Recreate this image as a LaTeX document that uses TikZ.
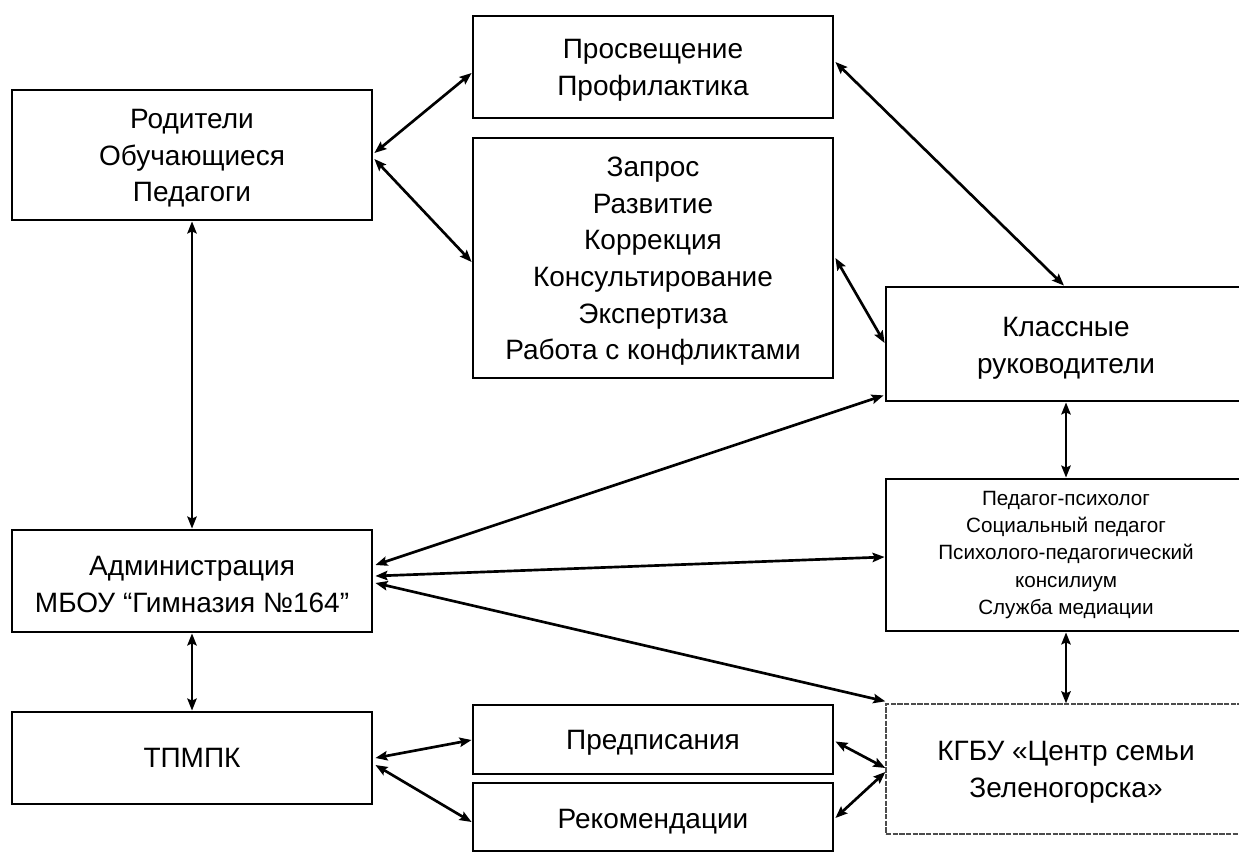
\documentclass[tikz,border=0pt]{standalone}
\usepackage{fontspec}
\setmainfont{Liberation Sans}
\usetikzlibrary{arrows.meta,calc}
\newcommand\mystrut{\rule{0pt}{19.5pt}}
\begin{document}
\begin{tikzpicture}[x=0.75pt,y=-0.75pt,
  box/.style={draw, line width=2.1pt, inner sep=0pt, align=center,
    font=\fontsize{21pt}{27.5pt}\selectfont},
  smallbox/.style={box, font=\fontsize{15.5pt}{20.3pt}\selectfont},
  dashbox/.style={box, line width=1pt, draw=black!70, dash pattern=on 4pt off 1pt},
  link/.style={line width=2pt, {Stealth[length=9pt,width=7pt,inset=1.5pt]}-{Stealth[length=9pt,width=7pt,inset=1.5pt]}}
]
\useasboundingbox (0,0) rectangle (1239,855);
\clip (0,0) rectangle (1239,855);
\fill[white] (0,0) rectangle (1239,855);

\node[box, minimum width=270pt, minimum height=97.5pt] (rod) at (192,155) {\mystrut Родители\\Обучающиеся\\Педагоги};
\node[box, minimum width=270pt, minimum height=76.5pt] (pros) at (653,67) {\mystrut Просвещение\\Профилактика};
\node[box, minimum width=270pt, minimum height=180pt] (zap) at (653,258) {\mystrut Запрос\\Развитие\\Коррекция\\Консультирование\\Экспертиза\\Работа с конфликтами};
\node[box, minimum width=270pt, minimum height=85.5pt] (kl) at (1066,344) {\rule{0pt}{21pt}Классные\\руководители};
\node[smallbox, minimum width=270pt, minimum height=114pt] (psy) at (1066,555) {Педагог-психолог\\Социальный педагог\\Психолого-педагогический\\консилиум\\Служба медиации};
\node[box, minimum width=270pt, minimum height=76.5pt] (adm) at (192,581) {\mystrut Администрация\\МБОУ “Гимназия №164”};
\node[box, minimum width=270pt, minimum height=69pt] (tpm) at (192,758) {ТПМПК};
\node[box, minimum width=270pt, minimum height=51.75pt] (pred) at (653,739.5) {\mystrut Предписания};
\node[box, minimum width=270pt, minimum height=51pt] (rek) at (653,817) {\rule{0pt}{21pt}Рекомендации};
\node[dashbox, minimum width=270pt, minimum height=97.5pt] (kgbu) at (1066,769) {\mystrut КГБУ «Центр семьи\\Зеленогорска»};

\draw[link] ($(rod.east)+(1,-2)$) -- ($(pros.west)+(0,6)$);
\draw[link] ($(rod.east)+(1,4)$) -- ($(zap.west)+(0,4)$);
\draw[link] ($(pros.east)+(1,-5)$) -- ($(kl.north)+(-2,0)$);
\draw[link] ($(zap.east)+(1,0)$) -- ($(kl.west)+(0,-1)$);
\draw[link] (rod.south) -- (adm.north);
\draw[link] ($(adm.east)+(2,-16)$) -- ($(kl.south west)+(-1,-7)$);
\draw[link] ($(adm.east)+(2,-5)$) -- ($(psy.west)+(0,2)$);
\draw[link] ($(adm.east)+(2,2)$) -- ($(kgbu.north west)+(0,-2)$);
\draw[link] (kl.south) -- (psy.north);
\draw[link] (psy.south) -- (kgbu.north);
\draw[link] (adm.south) -- (tpm.north);
\draw[link] ($(tpm.east)+(2,0)$) -- ($(pred.west)+(0,0.5)$);
\draw[link] ($(tpm.east)+(2,7)$) -- ($(rek.west)+(0,5)$);
\draw[link] ($(pred.east)+(1,2)$) -- ($(kgbu.west)+(0,-1)$);
\draw[link] ($(rek.east)+(1,1)$) -- ($(kgbu.west)+(0,3)$);
\end{tikzpicture}
\end{document}
